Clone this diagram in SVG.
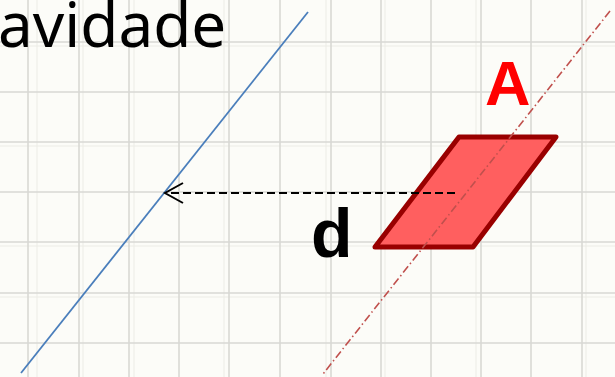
<svg xmlns="http://www.w3.org/2000/svg" width="615" height="377" viewBox="0 0 615 377">
<style>
.grid line{stroke:#d9d9d4;stroke-width:1.6}
.grid2 line{stroke:#ececE6;stroke-width:1}
.txt{font-family:"Noto Sans","Open Sans",sans-serif}
.bold{font-family:"Liberation Sans",Arial,sans-serif;font-weight:bold}
</style>
<rect width="615" height="377" fill="#fcfcf8"/>
<g class="grid2">
<line x1="37" y1="0" x2="37" y2="377"/><line x1="83" y1="0" x2="83" y2="377"/><line x1="134" y1="0" x2="134" y2="377"/><line x1="224" y1="0" x2="224" y2="377"/><line x1="326" y1="0" x2="326" y2="377"/><line x1="385" y1="0" x2="385" y2="377"/><line x1="476" y1="0" x2="476" y2="377"/><line x1="586" y1="0" x2="586" y2="377"/>
<line x1="0" y1="46" x2="615" y2="46"/><line x1="0" y1="146" x2="615" y2="146"/><line x1="0" y1="246" x2="615" y2="246"/><line x1="0" y1="297" x2="615" y2="297"/>
</g>
<g class="grid">
<line x1="28" y1="0" x2="28" y2="377"/><line x1="79" y1="0" x2="79" y2="377"/><line x1="129" y1="0" x2="129" y2="377"/><line x1="179" y1="0" x2="179" y2="377"/><line x1="229" y1="0" x2="229" y2="377"/><line x1="280" y1="0" x2="280" y2="377"/><line x1="331" y1="0" x2="331" y2="377"/><line x1="381" y1="0" x2="381" y2="377"/><line x1="431" y1="0" x2="431" y2="377"/><line x1="481" y1="0" x2="481" y2="377"/><line x1="531" y1="0" x2="531" y2="377"/><line x1="582" y1="0" x2="582" y2="377"/>
<line x1="0" y1="42" x2="615" y2="42"/><line x1="0" y1="92" x2="615" y2="92"/><line x1="0" y1="142" x2="615" y2="142"/><line x1="0" y1="192" x2="615" y2="192"/><line x1="0" y1="242" x2="615" y2="242"/><line x1="0" y1="293" x2="615" y2="293"/><line x1="0" y1="343" x2="615" y2="343"/>
</g>
<text class="txt" x="-2" y="47" font-size="62" fill="#000">avidade</text>
<g id="gravity-line">
<line x1="308" y1="12" x2="21" y2="373" stroke="#4a7ebb" stroke-width="1.8"/>
</g>
<g id="area-A">
<polygon points="459,137 556,137 473,247 375,247" fill="#ff5f5f" stroke="#990000" stroke-width="5" stroke-linejoin="round"/>
<text class="bold" x="485" y="105" font-size="63" fill="#ff0000">A</text>
</g>
<g id="axis">
<line x1="610" y1="11" x2="323" y2="374" stroke="#c0504d" stroke-width="1.6" stroke-dasharray="8 3 1.5 3"/>
</g>
<g id="connectors">
<line x1="455" y1="193" x2="167" y2="193" stroke="#000" stroke-width="2" stroke-dasharray="8 4"/>
<polyline points="183,183 165,193 183,203" fill="none" stroke="#000" stroke-width="2"/>
</g>
<text class="bold" x="311" y="257" font-size="68" fill="#000">d</text>
</svg>
